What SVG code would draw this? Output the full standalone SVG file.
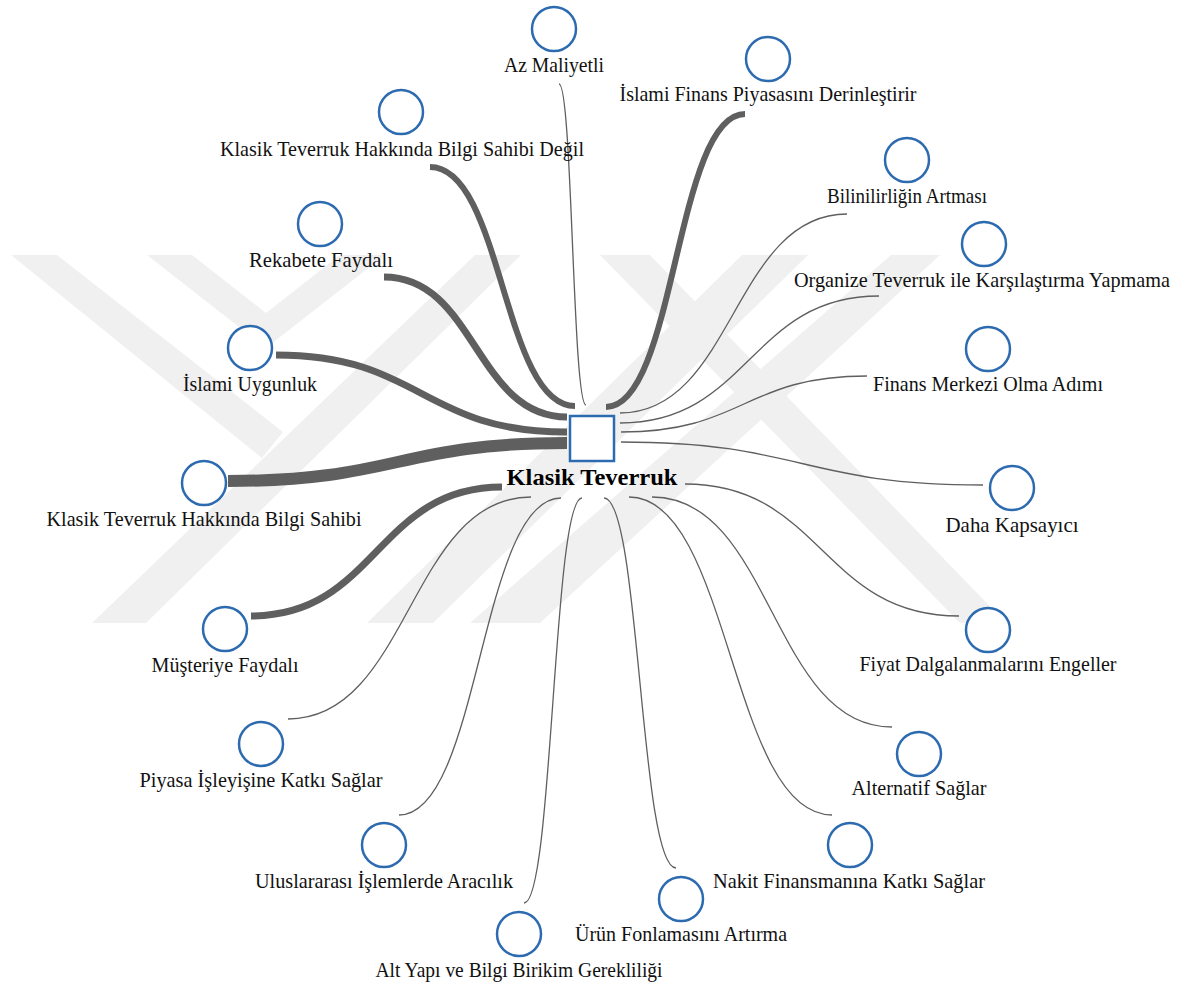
<svg xmlns="http://www.w3.org/2000/svg" width="1185" height="987" viewBox="0 0 1185 987">
<style>
.wm{fill:#f0f0f0;stroke:none}
.lk{fill:none;stroke:#5f5f5f;stroke-linecap:butt}
.thin{stroke-width:1.3}
.nd{fill:#ffffff;stroke:#2d6bb0;stroke-width:2.5}
.lb{font-family:"Liberation Serif","Times New Roman",serif;font-size:22px;fill:#111;text-anchor:middle}
.hub{font-family:"Liberation Serif","Times New Roman",serif;font-size:23px;font-weight:bold;fill:#000;text-anchor:middle}
</style>
<rect x="0" y="0" width="1185" height="987" fill="#ffffff"/>
<g id="watermark">
<polygon class="wm" points="11,255 57,255 283,432 262,458"/>
<polygon class="wm" points="475,255 521,255 146,623 92,623"/>
<polygon class="wm" points="147,255 192,255 266,313 340,255 385,255 266,348"/>
<polygon class="wm" points="742,255 808,255 433,623 367,623"/>
<polygon class="wm" points="891,255 940,255 540,623 470,623"/>
<polygon class="wm" points="600,255 650,255 1006,623 960,623"/>
</g>
<g id="connectors">
<path class="lk thin" d="M559,84 C572.5,84 572.5,405 586,405"/>
<path class="lk" stroke-width="6" d="M745,114 C675.5,114 675.5,407 606,407"/>
<path class="lk" stroke-width="6" d="M430,167 C502.5,167 502.5,406 575,406"/>
<path class="lk" stroke-width="7" d="M384,277 C475.5,277 475.5,417 567,417"/>
<path class="lk" stroke-width="7" d="M276,355 C421.5,355 421.5,432 567,432"/>
<path class="lk" stroke-width="12" d="M228,481 C397.5,481 397.5,443 567,443"/>
<path class="lk" stroke-width="7" d="M251,616 C376.5,616 376.5,487 502,487"/>
<path class="lk thin" d="M288,719 C409.5,719 409.5,497 531,497"/>
<path class="lk thin" d="M399,815 C480,815 480,498 561,498"/>
<path class="lk thin" d="M524,903 C553,903 553,498 582,498"/>
<path class="lk thin" d="M676,868 C640,868 640,498 604,498"/>
<path class="lk thin" d="M832,815 C730.5,815 730.5,497 629,497"/>
<path class="lk thin" d="M892,727 C772,727 772,497 652,497"/>
<path class="lk thin" d="M959,616 C822,616 822,484 685,484"/>
<path class="lk thin" d="M983,485 C802,485 802,442 621,442"/>
<path class="lk thin" d="M867,376 C744,376 744,432 621,432"/>
<path class="lk thin" d="M879,296 C749.5,296 749.5,423 620,423"/>
<path class="lk thin" d="M847,214 C733.5,214 733.5,413 620,413"/>
</g>
<g id="hub">
<rect class="nd" x="570" y="416" width="44" height="45"/>
<text class="hub" x="592" y="485" textLength="171" lengthAdjust="spacingAndGlyphs">Klasik Teverruk</text>
</g>
<g id="n1"><circle class="nd" cx="554" cy="29" r="22"/><text class="lb" x="554" y="72" textLength="100" lengthAdjust="spacingAndGlyphs">Az Maliyetli</text></g>
<g id="n2"><circle class="nd" cx="768" cy="59" r="22"/><text class="lb" x="768" y="101" textLength="297" lengthAdjust="spacingAndGlyphs">İslami Finans Piyasasını Derinleştirir</text></g>
<g id="n3"><circle class="nd" cx="401" cy="112" r="22"/><text class="lb" x="402" y="156" textLength="364" lengthAdjust="spacingAndGlyphs">Klasik Teverruk Hakkında Bilgi Sahibi Değil</text></g>
<g id="n4"><circle class="nd" cx="320" cy="224" r="22"/><text class="lb" x="321" y="267" textLength="144" lengthAdjust="spacingAndGlyphs">Rekabete Faydalı</text></g>
<g id="n5"><circle class="nd" cx="250" cy="348" r="22"/><text class="lb" x="250" y="391" textLength="134" lengthAdjust="spacingAndGlyphs">İslami Uygunluk</text></g>
<g id="n6"><circle class="nd" cx="204" cy="483" r="22"/><text class="lb" x="204" y="526" textLength="315" lengthAdjust="spacingAndGlyphs">Klasik Teverruk Hakkında Bilgi Sahibi</text></g>
<g id="n7"><circle class="nd" cx="225" cy="629" r="22"/><text class="lb" x="225" y="672" textLength="147" lengthAdjust="spacingAndGlyphs">Müşteriye Faydalı</text></g>
<g id="n8"><circle class="nd" cx="261" cy="744" r="22"/><text class="lb" x="261" y="787" textLength="243" lengthAdjust="spacingAndGlyphs">Piyasa İşleyişine Katkı Sağlar</text></g>
<g id="n9"><circle class="nd" cx="384" cy="845" r="22"/><text class="lb" x="384" y="888" textLength="258" lengthAdjust="spacingAndGlyphs">Uluslararası İşlemlerde Aracılık</text></g>
<g id="n10"><circle class="nd" cx="519" cy="934" r="22"/><text class="lb" x="519" y="977" textLength="287" lengthAdjust="spacingAndGlyphs">Alt Yapı ve Bilgi Birikim Gerekliliği</text></g>
<g id="n11"><circle class="nd" cx="681" cy="899" r="22"/><text class="lb" x="681" y="941" textLength="212" lengthAdjust="spacingAndGlyphs">Ürün Fonlamasını Artırma</text></g>
<g id="n12"><circle class="nd" cx="850" cy="845" r="22"/><text class="lb" x="849" y="888" textLength="272" lengthAdjust="spacingAndGlyphs">Nakit Finansmanına Katkı Sağlar</text></g>
<g id="n13"><circle class="nd" cx="919" cy="754" r="22"/><text class="lb" x="919" y="795" textLength="135" lengthAdjust="spacingAndGlyphs">Alternatif Sağlar</text></g>
<g id="n14"><circle class="nd" cx="988" cy="630" r="22"/><text class="lb" x="988" y="671" textLength="257" lengthAdjust="spacingAndGlyphs">Fiyat Dalgalanmalarını Engeller</text></g>
<g id="n15"><circle class="nd" cx="1012" cy="488" r="22"/><text class="lb" x="1012" y="532" textLength="133" lengthAdjust="spacingAndGlyphs">Daha Kapsayıcı</text></g>
<g id="n16"><circle class="nd" cx="988" cy="349" r="22"/><text class="lb" x="988" y="391" textLength="230" lengthAdjust="spacingAndGlyphs">Finans Merkezi Olma Adımı</text></g>
<g id="n17"><circle class="nd" cx="984" cy="244" r="22"/><text class="lb" x="982" y="287" textLength="376" lengthAdjust="spacingAndGlyphs">Organize Teverruk ile Karşılaştırma Yapmama</text></g>
<g id="n18"><circle class="nd" cx="907" cy="160" r="22"/><text class="lb" x="907" y="203" textLength="160" lengthAdjust="spacingAndGlyphs">Bilinilirliğin Artması</text></g>
</svg>
